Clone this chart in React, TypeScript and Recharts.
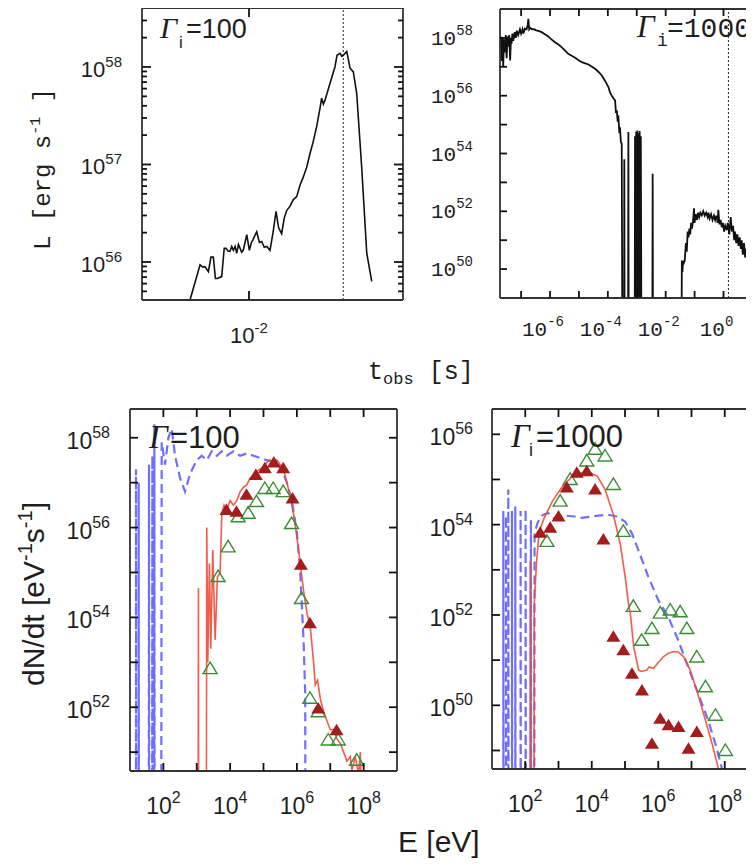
import React from "react";
import { ComposedChart, Line, Scatter, XAxis, YAxis, ReferenceLine } from "recharts";

const SANS = "'Liberation Sans', Arial, Helvetica, sans-serif";
const MONO = "'Liberation Mono', 'Courier New', monospace";
const SERIF = "'Liberation Serif', 'Times New Roman', serif";
const INK = "#1e1e1e";
const FRAME = "#333";

// all values are log10 of the plotted quantity

// light curve, Gamma_i = 100 : [log t_obs (s), log L (erg/s)]
const lcGamma100: number[][] = [
  [-2.369, 55.61], [-2.348, 55.73], [-2.306, 55.97], [-2.29, 55.95], [-2.275, 55.95], [-2.254, 55.9],
  [-2.238, 56.05], [-2.223, 56.05], [-2.21, 55.83], [-2.198, 55.83], [-2.171, 55.85], [-2.155, 56.14],
  [-2.144, 56.14], [-2.13, 56.11], [-2.119, 56.11], [-2.108, 56.16], [-2.098, 56.12], [-2.087, 56.16],
  [-2.077, 56.09], [-2.066, 56.18], [-2.056, 56.14], [-2.046, 56.1], [-2.036, 56.12], [-2.025, 56.2],
  [-2.014, 56.28], [-1.998, 56.12], [-1.985, 56.2], [-1.975, 56.23], [-1.952, 56.31], [-1.935, 56.2],
  [-1.921, 56.21], [-1.905, 56.15], [-1.889, 56.16], [-1.869, 56.12], [-1.85, 56.3], [-1.831, 56.52],
  [-1.815, 56.35], [-1.796, 56.29], [-1.78, 56.45], [-1.764, 56.53], [-1.744, 56.57], [-1.723, 56.64],
  [-1.702, 56.67], [-1.681, 56.79], [-1.661, 56.87], [-1.64, 56.97], [-1.619, 57.11], [-1.598, 57.24],
  [-1.577, 57.39], [-1.556, 57.58], [-1.546, 57.68], [-1.535, 57.62], [-1.525, 57.66], [-1.494, 57.83],
  [-1.463, 58.0], [-1.45, 58.12], [-1.431, 58.14], [-1.42, 58.11], [-1.411, 58.12], [-1.389, 58.16],
  [-1.369, 57.99], [-1.348, 57.95], [-1.327, 57.73], [-1.296, 56.98], [-1.264, 56.09], [-1.233, 55.8],
];

// light curve, Gamma_i = 1000
const lcGamma1000: number[][] = [
  [-7.73, 57.6], [-7.7, 58.05], [-7.67, 57.2], [-7.64, 58.0], [-7.62, 57.0], [-7.59, 57.95], [-7.56, 57.5],
  [-7.53, 58.1], [-7.5, 57.3], [-7.47, 58.05], [-7.44, 57.7], [-7.41, 58.1], [-7.38, 57.22], [-7.35, 58.0],
  [-7.33, 57.8], [-7.3, 58.15], [-7.27, 57.9], [-7.22, 58.2], [-7.18, 58.0], [-7.15, 58.25], [-7.1, 58.1],
  [-7.04, 58.3], [-7.0, 58.15], [-6.95, 58.3], [-6.92, 58.15], [-6.87, 58.32], [-6.81, 58.3], [-6.77, 58.45],
  [-6.75, 58.66], [-6.72, 58.3], [-6.69, 58.35], [-6.62, 58.3], [-6.55, 58.3], [-6.48, 58.26], [-6.4, 58.24],
  [-6.29, 58.2], [-6.18, 58.13], [-6.06, 58.05], [-5.95, 57.95], [-5.83, 57.85], [-5.72, 57.78], [-5.6, 57.68],
  [-5.48, 57.56], [-5.37, 57.45], [-5.25, 57.38], [-5.13, 57.31], [-5.0, 57.22], [-4.9, 57.16], [-4.78, 57.12],
  [-4.67, 57.08], [-4.55, 57.0], [-4.44, 56.93], [-4.32, 56.82], [-4.21, 56.7], [-4.1, 56.52], [-3.98, 56.3],
  [-3.92, 56.1], [-3.87, 56.01], [-3.8, 55.9], [-3.75, 55.84], [-3.72, 55.4], [-3.69, 55.49], [-3.66, 55.1],
  [-3.64, 55.32], [-3.6, 54.7], [-3.58, 54.91], [-3.55, 54.4], [-3.52, 54.34], [-3.5, 48], [-3.44, 48],
  [-3.43, 53.8], [-3.42, 48], [-3.3, 48], [-3.29, 54.74], [-3.28, 48], [-3.07, 48], [-3.06, 54.6], [-3.04, 48],
  [-3.02, 54.75], [-3.0, 48], [-2.98, 54.8], [-2.96, 48], [-2.94, 54.7], [-2.92, 48], [-2.9, 54.78], [-2.88, 48],
  [-2.86, 54.6], [-2.84, 48], [-2.46, 48], [-2.45, 53.3], [-2.44, 48], [-1.45, 48], [-1.44, 50.3], [-1.42, 49.9],
  [-1.4, 50.3], [-1.38, 50.2], [-1.34, 50.3], [-1.3, 50.9], [-1.27, 50.6], [-1.24, 51.3], [-1.21, 51.1],
  [-1.18, 51.4], [-1.15, 51.2], [-1.12, 51.6], [-1.09, 51.4], [-1.05, 51.7], [-1.02, 52.1], [-1.0, 51.6],
  [-0.96, 51.9], [-0.92, 51.7], [-0.88, 51.95], [-0.84, 51.8], [-0.8, 51.95], [-0.75, 51.86], [-0.7, 52.0],
  [-0.65, 51.85], [-0.6, 51.95], [-0.55, 51.8], [-0.52, 51.95], [-0.48, 51.75], [-0.43, 51.9], [-0.38, 51.7],
  [-0.33, 51.85], [-0.29, 51.7], [-0.25, 51.85], [-0.2, 51.6], [-0.18, 52.05], [-0.14, 51.55], [-0.1, 51.7],
  [-0.06, 51.45], [-0.02, 51.6], [0.02, 51.3], [0.06, 51.5], [0.11, 51.35], [0.15, 51.6], [0.2, 51.2],
  [0.25, 51.8], [0.29, 51.3], [0.33, 51.5], [0.37, 51.0], [0.4, 51.3], [0.44, 50.9], [0.48, 51.2], [0.52, 50.8],
  [0.56, 51.1], [0.6, 50.7], [0.63, 51.0], [0.67, 50.5], [0.71, 50.9], [0.75, 50.4], [0.79, 50.7], [0.83, 50.2],
  [0.86, 50.5], [0.9, 49.9], [0.94, 50.6], [0.98, 51.1], [1.02, 49.8], [1.06, 50.3], [1.1, 49.6], [1.2, 50.0],
  [1.3, 49.4], [1.4, 49.8], [1.5, 49.2], [1.6, 48.9], [1.7, 48],
];

// spectra, Gamma_i = 100 : [log E (eV), log dN/dt]
const spec100Blue: number[][] = [
  [1.18, 45], [1.18, 57.3], [1.19, 45], [1.26, 45], [1.26, 57.0], [1.27, 45], [1.56, 45], [1.57, 57.4],
  [1.58, 45], [1.66, 45], [1.67, 57.6], [1.68, 45], [1.72, 45], [1.73, 58.3], [1.74, 45], [1.93, 45],
  [1.95, 57.9], [2.05, 57.4], [2.15, 58.0], [2.25, 58.2], [2.35, 57.6], [2.5, 57.1], [2.65, 56.8], [2.8, 57.2],
  [3.0, 57.5], [3.15, 57.6], [3.3, 57.5], [3.45, 57.7], [3.6, 57.6], [3.75, 57.7], [3.9, 57.6], [4.1, 57.7],
  [4.3, 57.6], [4.5, 57.65], [4.7, 57.6], [4.9, 57.55], [5.1, 57.5], [5.3, 57.47], [5.45, 57.38], [5.55, 57.28],
  [5.7, 57.0], [5.85, 56.6], [6.0, 55.9], [6.1, 55.0], [6.2, 53.5], [6.25, 52.3], [6.26, 45],
];
const spec100Red: number[][] = [
  [3.04, 45], [3.05, 54.65], [3.06, 45], [3.28, 45], [3.3, 56.0], [3.33, 53.0], [3.38, 55.2], [3.42, 53.3],
  [3.48, 55.5], [3.55, 53.5], [3.62, 54.9], [3.7, 55.0], [3.75, 56.3], [3.82, 56.5], [3.9, 56.4], [4.0, 56.6],
  [4.1, 56.5], [4.2, 56.6], [4.3, 56.8], [4.4, 56.9], [4.5, 56.95], [4.6, 57.1], [4.7, 57.15], [4.8, 57.25],
  [4.9, 57.3], [5.0, 57.35], [5.1, 57.45], [5.2, 57.5], [5.3, 57.45], [5.4, 57.5], [5.5, 57.4], [5.6, 57.3],
  [5.7, 57.0], [5.8, 56.7], [5.9, 56.3], [6.0, 55.8], [6.1, 55.2], [6.2, 54.6], [6.3, 54.1], [6.4, 53.8],
  [6.45, 53.4], [6.5, 53.0], [6.55, 52.5], [6.62, 52.6], [6.7, 52.2], [6.8, 51.9], [6.9, 51.7], [7.0, 51.5],
  [7.1, 51.5], [7.2, 51.3], [7.3, 51.2], [7.4, 51.0], [7.5, 50.8], [7.6, 50.9], [7.65, 50.6], [7.75, 50.9],
  [7.85, 50.5], [7.9, 51.0], [7.92, 50.4],
];
const spec100Filled: number[][] = [
  [3.89, 56.39], [4.19, 56.35], [4.49, 56.73], [4.77, 57.17], [5.04, 57.32], [5.31, 57.45], [5.59, 57.32],
  [5.87, 56.65], [6.12, 55.17], [6.39, 53.87], [6.64, 51.97], [7.19, 51.49],
];
const spec100Open: number[][] = [
  [3.4, 52.86], [3.64, 54.91], [3.94, 55.57], [4.24, 56.24], [4.54, 56.32], [4.79, 56.58], [5.04, 56.87],
  [5.29, 56.87], [5.59, 56.8], [5.84, 56.09], [6.14, 54.42], [6.39, 52.2], [6.64, 51.9], [6.94, 51.27],
  [7.24, 51.27], [7.79, 50.82],
];

// spectra, Gamma_i = 1000
const spec1000Blue: number[][] = [
  [1.34, 45], [1.34, 54.3], [1.35, 45], [1.42, 45], [1.42, 54.2], [1.43, 45], [1.49, 45], [1.49, 54.78],
  [1.5, 45], [1.6, 45], [1.6, 54.3], [1.61, 45], [1.7, 45], [1.7, 54.4], [1.71, 45], [1.86, 45], [1.86, 54.3],
  [1.87, 45], [2.01, 45], [2.01, 54.35], [2.02, 45], [2.17, 45], [2.17, 54.1], [2.18, 45], [2.27, 45],
  [2.28, 53.8], [2.37, 54.04], [2.5, 54.2], [2.68, 54.26], [2.85, 54.15], [2.98, 54.15], [3.2, 54.2],
  [3.49, 54.18], [3.7, 54.15], [3.99, 54.18], [4.2, 54.2], [4.49, 54.22], [4.75, 54.18], [5.0, 54.07],
  [5.2, 53.82], [5.4, 53.44], [5.7, 52.85], [6.0, 52.33], [6.3, 51.96], [6.6, 51.44], [6.9, 50.85],
  [7.2, 50.26], [7.5, 49.67], [7.75, 49.07], [7.95, 48.5],
];
const spec1000Red: number[][] = [
  [2.14, 45], [2.15, 53.2], [2.16, 45], [2.26, 45], [2.27, 52.22], [2.34, 53.18], [2.42, 53.85], [2.57, 54.15],
  [2.82, 54.52], [3.12, 54.85], [3.47, 55.11], [3.87, 55.18], [4.17, 55.07], [4.4, 54.78], [4.65, 54.22],
  [4.86, 53.56], [5.01, 52.82], [5.11, 52.22], [5.16, 52.04], [5.26, 51.3], [5.41, 50.78], [5.5, 50.75],
  [5.66, 50.78], [5.72, 50.85], [5.86, 50.82], [6.0, 50.95], [6.16, 51.08], [6.3, 51.15], [6.46, 51.19],
  [6.6, 51.18], [6.76, 51.08], [6.96, 50.78], [7.16, 50.33], [7.42, 49.67], [7.62, 49.15], [7.82, 48.57],
  [7.9, 48.3],
];
const spec1000Filled: number[][] = [
  [2.45, 53.82], [2.75, 53.93], [3.0, 54.18], [3.25, 54.82], [3.55, 55.15], [3.85, 55.18], [4.1, 54.78],
  [4.35, 53.67], [4.65, 51.52], [4.95, 51.22], [5.21, 50.7], [5.51, 50.33], [5.81, 49.15], [6.06, 49.7],
  [6.31, 49.56], [6.61, 49.52], [6.91, 49.04], [7.16, 49.41],
];
const spec1000Open: number[][] = [
  [2.65, 53.63], [3.05, 54.52], [3.35, 55.0], [3.85, 55.41], [4.1, 55.67], [4.4, 55.52], [4.65, 54.89],
  [4.95, 53.85], [5.25, 52.19], [5.5, 51.44], [5.81, 51.7], [6.06, 52.04], [6.36, 52.11], [6.66, 52.07],
  [6.86, 51.7], [7.16, 51.07], [7.42, 50.41], [7.72, 49.78], [8.02, 49.0],
];

// axis ticks (exponents)
const range = (a: number, b: number) => Array.from({ length: b - a + 1 }, (_, i) => a + i);
const tlXTicks = [-2];
const tlYTicks = [55, 56, 57, 58]
  .flatMap((n) => range(1, 9).map((k) => n + Math.log10(k)))
  .filter((v) => v > 55.62 && v < 58.6);
const tlYLabels = [56, 57, 58];
const trXTicks = range(-7, 2);
const trXLabels = [-6, -4, -2, 0];
const trYTicks = range(50, 58);
const trYLabels = [50, 52, 54, 56, 58];
const eTicks = range(2, 8);
const eLabels = [2, 4, 6, 8];
const blYTicks = range(51, 58);
const blYLabels = [52, 54, 56, 58];
const brYTicks = range(49, 56);
const brYLabels = [50, 52, 54, 56];

const toXY = (a: number[][]) => a.map(([x, y]) => ({ x, y }));

type TickFont = { family: string; size: number; sup: number; supDy: number };

const isMajor = (v: number) => Math.abs(v - Math.round(v)) < 1e-6;

// tick labels only: 10 with the exponent as superscript
function makeXLabel(labels: number[], f: TickFont, base: number, shift: number) {
  return (p: any) => {
    const x = Number(p.x);
    const y = Number(p.y);
    const v = p.payload.value;
    if (!labels.includes(v)) return <g />;
    return (
      <text x={x + shift} y={y + base} textAnchor="middle" fontFamily={f.family} fontSize={f.size} fill={INK}>
        10
        <tspan dy={f.supDy} fontSize={f.sup}>
          {String(v)}
        </tspan>
      </text>
    );
  };
}

function makeYLabel(labels: number[], f: TickFont, gap: number, base: number) {
  return (p: any) => {
    const x = Number(p.x);
    const y = Number(p.y);
    const v = p.payload.value;
    const lab = labels.find((q) => Math.abs(q - v) < 1e-6);
    if (lab === undefined) return <g />;
    return (
      <text x={x - gap} y={y + base} textAnchor="end" fontFamily={f.family} fontSize={f.size} fill={INK}>
        10
        <tspan dy={f.supDy} fontSize={f.sup}>
          {String(lab)}
        </tspan>
      </text>
    );
  };
}

// inward tick marks, drawn as scatter glyphs sitting on the frame
function tickMark(dx: number, dy: number) {
  return (p: any) => {
    const { cx, cy, payload } = p;
    const k = payload && payload.minor ? 0.55 : 1;
    return <path d={`M${cx},${cy}l${dx * k},${dy * k}`} stroke="#111" strokeWidth={1.8} fill="none" />;
  };
}

const FilledTri = (p: any) => {
  const { cx, cy } = p;
  return <polygon points={`${cx},${cy - 6.5} ${cx - 7},${cy + 5} ${cx + 7},${cy + 5}`} fill="#a31d1d" />;
};
const OpenTri = (p: any) => {
  const { cx, cy } = p;
  return (
    <polygon
      points={`${cx},${cy - 6.5} ${cx - 7},${cy + 5} ${cx + 7},${cy + 5}`}
      fill="none"
      stroke="#3b8d35"
      strokeWidth={1.4}
    />
  );
};

interface PanelProps {
  left: number;
  top: number;
  width: number;
  height: number;
  plot: { x: number; y: number; w: number; h: number }; // plot box inside the chart
  xDomain: [number, number];
  yDomain: [number, number];
  xTicks: number[];
  yTicks: number[];
  tickLen: number;
  xTick: any;
  yTick: any;
  children: React.ReactNode;
}

function Panel({ left, top, width, height, plot, xDomain, yDomain, xTicks, yTicks, tickLen, xTick, yTick, children }: PanelProps) {
  // axes get a 1px band each (a zero-size axis is not drawn)
  const margin = {
    top: plot.y,
    left: plot.x - 1,
    right: width - plot.x - plot.w,
    bottom: height - plot.y - plot.h - 1,
  };
  const [x0, x1] = xDomain;
  const [y0, y1] = yDomain;
  const frame = { stroke: FRAME, strokeWidth: 1.8, ifOverflow: "visible" as const };
  const bottomTicks = xTicks.map((v) => ({ x: v, y: y0 }));
  const topTicks = xTicks.map((v) => ({ x: v, y: y1 }));
  const leftTicks = yTicks.map((v) => ({ x: x0, y: v, minor: !isMajor(v) }));
  const rightTicks = yTicks.map((v) => ({ x: x1, y: v, minor: !isMajor(v) }));
  return (
    <div style={{ position: "absolute", left, top }}>
      <ComposedChart width={width} height={height} margin={margin}>
        <XAxis
          type="number"
          dataKey="x"
          domain={xDomain}
          ticks={xTicks}
          interval={0}
          allowDataOverflow
          height={1}
          tickSize={0}
          tickMargin={0}
          axisLine={false}
          tickLine={false}
          tick={xTick}
        />
        <YAxis
          type="number"
          dataKey="y"
          domain={yDomain}
          ticks={yTicks}
          interval={0}
          allowDataOverflow
          width={1}
          tickSize={0}
          tickMargin={0}
          axisLine={false}
          tickLine={false}
          tick={yTick}
        />
        {children}
        <Scatter data={bottomTicks} shape={tickMark(0, -tickLen)} isAnimationActive={false} />
        <Scatter data={topTicks} shape={tickMark(0, tickLen)} isAnimationActive={false} />
        <Scatter data={leftTicks} shape={tickMark(tickLen, 0)} isAnimationActive={false} />
        <Scatter data={rightTicks} shape={tickMark(-tickLen, 0)} isAnimationActive={false} />
        <ReferenceLine x={x0} {...frame} />
        <ReferenceLine x={x1} {...frame} />
        <ReferenceLine y={y0} {...frame} />
        <ReferenceLine y={y1} {...frame} />
      </ComposedChart>
    </div>
  );
}

const sansTick: TickFont = { family: SANS, size: 22, sup: 15, supDy: -10 };
const monoTick: TickFont = { family: MONO, size: 21, sup: 14, supDy: -10 };
const specTick: TickFont = { family: SANS, size: 23, sup: 16, supDy: -11 };

const BLUE = { stroke: "#4b4bff", strokeOpacity: 0.8, strokeWidth: 2.2, strokeDasharray: "9 5" };
const RED = { stroke: "#ef4a38", strokeOpacity: 0.9, strokeWidth: 1.6 };

const TL = { x: 142, y: 8, w: 261, h: 292 };
const TR = { x: 80, y: 9, w: 290, h: 289 };
const BL = { x: 130, y: 29, w: 267, h: 362 };
const BR = { x: 72, y: 29, w: 266, h: 360 };

export default function App() {
  return (
    <div style={{ position: "relative", width: 754, height: 866, margin: -8, overflow: "hidden", background: "#fff" }}>
      {/* top-left light curve */}
      <Panel
        left={0}
        top={0}
        width={420}
        height={360}
        plot={TL}
        xDomain={[-2.669, -1.0375]}
        yDomain={[55.61, 58.605]}
        xTicks={tlXTicks}
        yTicks={tlYTicks}
        tickLen={9}
        xTick={makeXLabel(tlXTicks, sansTick, 43, 0)}
        yTick={makeYLabel(tlYLabels, sansTick, 20, 10)}
      >
        <ReferenceLine x={-1.411} stroke="#222" strokeDasharray="2 2" strokeWidth={1} />
        <Line data={toXY(lcGamma100)} dataKey="y" type="linear" stroke="#111" strokeWidth={1.6} dot={false} isAnimationActive={false} />
      </Panel>

      {/* top-right light curve */}
      <Panel
        left={420}
        top={0}
        width={380}
        height={360}
        plot={TR}
        xDomain={[-7.73, 2.3]}
        yDomain={[49, 59]}
        xTicks={trXTicks}
        yTicks={trYTicks}
        tickLen={7}
        xTick={makeXLabel(trXLabels, monoTick, 38, -7)}
        yTick={makeYLabel(trYLabels, monoTick, 27, 7)}
      >
        <ReferenceLine x={0.17} stroke="#222" strokeDasharray="2 2" strokeWidth={1} />
        <Line data={toXY(lcGamma1000)} dataKey="y" type="linear" stroke="#111" strokeWidth={1.8} dot={false} isAnimationActive={false} />
      </Panel>

      {/* bottom-left spectrum */}
      <Panel
        left={0}
        top={380}
        width={420}
        height={450}
        plot={BL}
        xDomain={[1, 9]}
        yDomain={[50.58, 58.64]}
        xTicks={eTicks}
        yTicks={blYTicks}
        tickLen={8}
        xTick={makeXLabel(eLabels, specTick, 43, 0)}
        yTick={makeYLabel(blYLabels, specTick, 20, 11)}
      >
        <Line data={toXY(spec100Blue)} dataKey="y" type="linear" {...BLUE} dot={false} isAnimationActive={false} />
        <Line data={toXY(spec100Red)} dataKey="y" type="linear" {...RED} dot={false} isAnimationActive={false} />
        <Scatter data={toXY(spec100Open)} shape={OpenTri} isAnimationActive={false} />
        <Scatter data={toXY(spec100Filled)} shape={FilledTri} isAnimationActive={false} />
      </Panel>

      {/* bottom-right spectrum */}
      <Panel
        left={420}
        top={380}
        width={360}
        height={450}
        plot={BR}
        xDomain={[1, 9]}
        yDomain={[48.59, 56.56]}
        xTicks={eTicks}
        yTicks={brYTicks}
        tickLen={8}
        xTick={makeXLabel(eLabels, specTick, 43, 0)}
        yTick={makeYLabel(brYLabels, specTick, 19, 11)}
      >
        <Line data={toXY(spec1000Blue)} dataKey="y" type="linear" {...BLUE} dot={false} isAnimationActive={false} />
        <Line data={toXY(spec1000Red)} dataKey="y" type="linear" {...RED} dot={false} isAnimationActive={false} />
        <Scatter data={toXY(spec1000Open)} shape={OpenTri} isAnimationActive={false} />
        <Scatter data={toXY(spec1000Filled)} shape={FilledTri} isAnimationActive={false} />
      </Panel>

      {/* titles and panel labels */}
      <svg width={754} height={866} style={{ position: "absolute", left: 0, top: 0, pointerEvents: "none" }}>
        <text transform="translate(50,169) rotate(-90)" textAnchor="middle" fontFamily={MONO} fontSize={24} fill={INK}>
          L [erg s<tspan dy={-10} fontSize={15}>-1</tspan>
          <tspan dy={10}> ]</tspan>
        </text>
        <text x={368} y={379} fontFamily={MONO} fontSize={25} fill={INK}>
          t<tspan dy={5} fontSize={17}>obs</tspan>
          <tspan dy={-5}> [s]</tspan>
        </text>
        <text transform="translate(44,594) rotate(-90)" textAnchor="middle" fontFamily={SANS} fontSize={30} fill={INK}>
          dN/dt [eV<tspan dy={-12} fontSize={20}>-1</tspan>
          <tspan dy={12}>s</tspan>
          <tspan dy={-12} fontSize={20}>-1</tspan>
          <tspan dy={12}>]</tspan>
        </text>
        <text x={398} y={852} fontFamily={SANS} fontSize={30} fill={INK}>
          E [eV]
        </text>

        <text x={160} y={38} fontFamily={SERIF} fontStyle="italic" fontSize={30} fill={INK}>Γ</text>
        <text x={179} y={48} fontFamily={SANS} fontSize={17} fill={INK}>i</text>
        <text x={186} y={38} fontFamily={SANS} fontSize={27} fill={INK}>=100</text>

        <text x={637} y={37} fontFamily={SERIF} fontStyle="italic" fontSize={31} fill={INK}>Γ</text>
        <text x={657} y={46} fontFamily={MONO} fontSize={18} fill={INK}>i</text>
        <text x={667} y={37} fontFamily={MONO} fontSize={28} fill={INK}>=1000</text>

        <text x={149} y={448} fontFamily={SERIF} fontStyle="italic" fontSize={33} fill={INK}>Γ</text>
        <text x={170} y={448} fontFamily={SANS} fontSize={31} fill={INK}>=100</text>

        <text x={511} y={447} fontFamily={SERIF} fontStyle="italic" fontSize={33} fill={INK}>Γ</text>
        <text x={529} y={456} fontFamily={SANS} fontSize={18} fill={INK}>i</text>
        <text x={536} y={447} fontFamily={SANS} fontSize={31} fill={INK}>=1000</text>
      </svg>
    </div>
  );
}
